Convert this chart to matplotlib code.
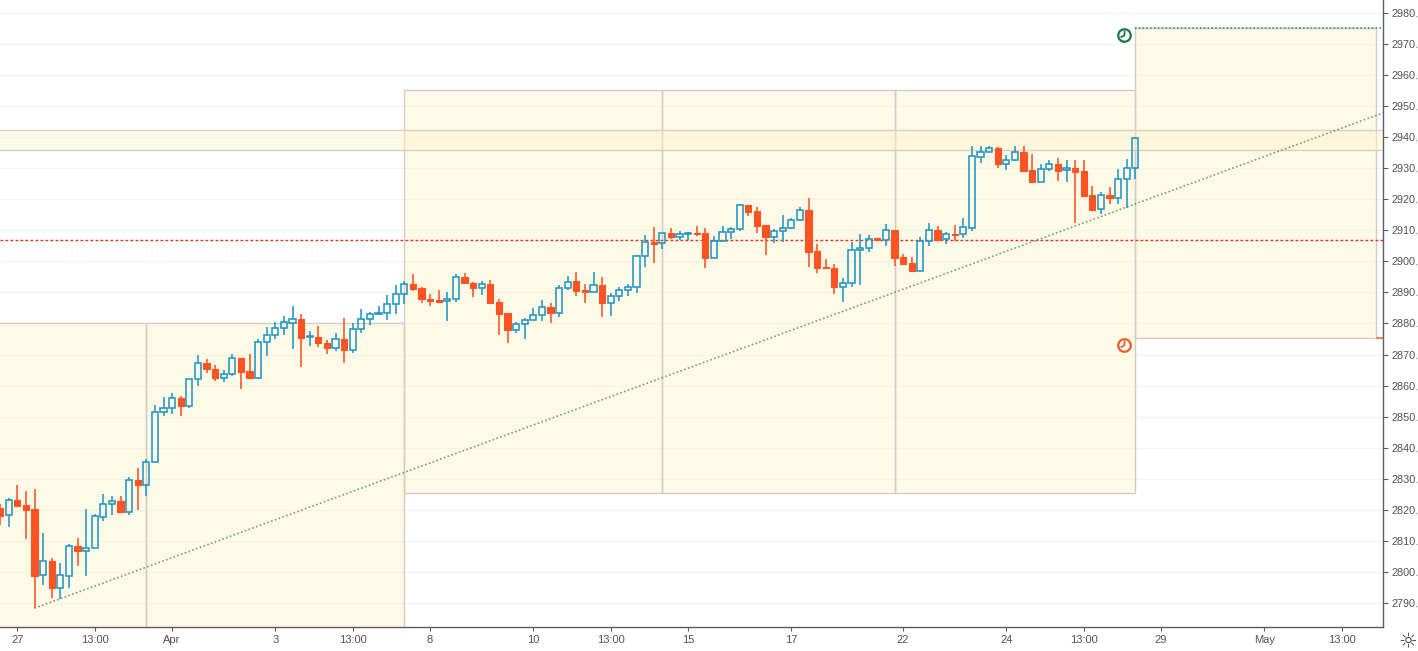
import matplotlib
matplotlib.use('Agg')
import matplotlib.pyplot as plt
from matplotlib.patches import Rectangle
from matplotlib.collections import LineCollection
from matplotlib.path import Path

# ---------------- data ----------------
first_bar = -2
opens = [2820.5, 2818.2, 2823.2, 2821.5, 2820.3, 2798.9, 2803.5, 2794.9, 2798.8, 2808.3,
         2806.8, 2807.8, 2817.8, 2821.8, 2822.7, 2819.4, 2829.5, 2828.1, 2835.5, 2851.4,
         2852.7, 2855.9, 2853.5, 2862.0, 2867.2, 2865.5, 2862.6, 2863.6, 2868.8, 2864.6,
         2862.5, 2873.9, 2876.2, 2878.4, 2880.3, 2881.6, 2875.6, 2875.5, 2873.6, 2872.2,
         2875.1, 2871.6, 2878.3, 2881.6, 2883.0, 2883.3, 2886.3, 2889.5, 2892.7, 2891.3,
         2887.8, 2887.6, 2887.3, 2887.8, 2894.9, 2892.9, 2891.5, 2892.7, 2886.8, 2883.3,
         2878.0, 2879.7, 2881.0, 2882.6, 2885.2, 2883.5, 2891.3, 2893.7, 2890.8, 2890.0,
         2892.4, 2886.7, 2888.7, 2890.7, 2891.7, 2901.6, 2906.2, 2905.9, 2909.0, 2907.7,
         2908.7, 2909.2, 2909.3, 2901.2, 2906.7, 2909.4, 2910.3, 2918.2, 2916.3, 2911.7,
         2907.8, 2909.7, 2910.7, 2913.3, 2916.6, 2903.4, 2898.3, 2898.0, 2891.7, 2892.9,
         2903.6, 2904.2, 2907.6, 2906.9, 2910.1, 2901.4, 2899.5, 2897.0, 2906.7, 2910.1,
         2907.1, 2908.9, 2908.7, 2910.9, 2933.7, 2935.1, 2936.4, 2931.5, 2932.6, 2935.1,
         2929.4, 2925.7, 2929.7, 2931.3, 2929.3, 2930.0, 2929.1, 2921.4, 2916.8, 2921.3,
         2920.3, 2926.5, 2930.0]
highs = [2822.0, 2823.8, 2828.0, 2826.1, 2826.6, 2812.6, 2804.4, 2802.8, 2808.9, 2810.8,
         2820.3, 2818.5, 2825.0, 2824.5, 2824.6, 2830.4, 2833.6, 2836.3, 2853.6, 2856.2,
         2857.5, 2856.7, 2862.0, 2869.8, 2868.5, 2866.5, 2864.9, 2870.2, 2868.8, 2870.2,
         2875.1, 2878.8, 2880.5, 2882.5, 2885.6, 2883.1, 2877.7, 2879.2, 2874.7, 2876.9,
         2881.7, 2880.3, 2884.6, 2883.8, 2885.6, 2889.2, 2892.4, 2893.8, 2895.9, 2891.9,
         2889.5, 2890.8, 2890.2, 2895.9, 2896.3, 2893.5, 2893.7, 2894.0, 2887.9, 2883.3,
         2880.6, 2881.7, 2884.9, 2887.6, 2886.5, 2892.4, 2895.3, 2896.7, 2892.6, 2896.7,
         2894.9, 2889.9, 2891.7, 2892.6, 2902.1, 2908.5, 2911.0, 2909.3, 2910.7, 2909.9,
         2909.4, 2911.4, 2910.7, 2908.2, 2911.5, 2911.0, 2918.5, 2918.2, 2917.6, 2911.7,
         2910.4, 2915.0, 2913.9, 2917.6, 2920.3, 2905.5, 2900.7, 2899.2, 2894.6, 2906.1,
         2908.8, 2908.4, 2907.6, 2912.1, 2910.1, 2902.5, 2901.3, 2908.0, 2912.3, 2911.3,
         2909.4, 2911.6, 2913.9, 2937.2, 2937.3, 2937.3, 2936.9, 2934.3, 2937.3, 2937.3,
         2934.5, 2931.3, 2932.7, 2933.2, 2932.7, 2932.7, 2932.7, 2924.3, 2922.2, 2923.9,
         2929.7, 2932.9, 2940.0]
lows = [2815.1, 2814.6, 2821.3, 2810.6, 2788.3, 2795.8, 2791.7, 2791.2, 2794.9, 2802.0,
        2798.8, 2807.8, 2816.5, 2818.3, 2819.4, 2818.2, 2819.8, 2824.6, 2835.5, 2850.3,
        2850.9, 2850.2, 2852.9, 2860.0, 2864.2, 2861.6, 2861.2, 2863.2, 2859.0, 2862.5,
        2862.2, 2869.6, 2875.1, 2876.3, 2871.9, 2865.9, 2872.9, 2872.5, 2870.3, 2871.3,
        2867.4, 2870.6, 2877.1, 2879.6, 2882.6, 2881.1, 2883.1, 2886.3, 2890.6, 2886.5,
        2885.7, 2887.0, 2880.9, 2887.0, 2892.9, 2888.6, 2889.2, 2886.7, 2876.3, 2873.8,
        2877.1, 2874.9, 2881.0, 2880.8, 2880.1, 2882.0, 2890.8, 2889.0, 2886.7, 2890.0,
        2882.2, 2882.4, 2887.4, 2888.9, 2889.7, 2898.3, 2899.4, 2904.1, 2907.3, 2906.9,
        2906.9, 2908.2, 2898.0, 2901.2, 2906.7, 2907.2, 2909.9, 2914.7, 2909.0, 2902.1,
        2906.0, 2906.4, 2910.4, 2913.0, 2898.3, 2896.2, 2897.7, 2889.5, 2887.0, 2891.9,
        2892.4, 2903.1, 2906.8, 2905.0, 2898.6, 2899.0, 2897.0, 2897.0, 2905.0, 2906.9,
        2905.7, 2906.7, 2907.4, 2909.9, 2931.6, 2935.1, 2930.2, 2929.4, 2932.3, 2928.9,
        2925.7, 2925.7, 2929.2, 2926.0, 2925.5, 2912.5, 2921.2, 2916.6, 2915.3, 2918.4,
        2918.4, 2917.3, 2926.5]
closes = [2818.1, 2823.1, 2821.3, 2820.0, 2798.8, 2803.5, 2794.9, 2798.9, 2808.2, 2806.8,
          2807.8, 2817.9, 2821.9, 2822.7, 2819.4, 2829.5, 2828.1, 2835.5, 2851.4, 2852.7,
          2855.9, 2853.5, 2862.0, 2867.2, 2865.5, 2862.6, 2863.6, 2868.8, 2864.5, 2862.5,
          2873.9, 2876.2, 2878.4, 2880.4, 2881.6, 2875.4, 2875.9, 2873.6, 2872.2, 2875.1,
          2871.6, 2878.3, 2881.6, 2883.1, 2883.4, 2886.3, 2889.5, 2892.7, 2891.2, 2887.8,
          2887.3, 2887.0, 2888.0, 2894.9, 2892.9, 2891.5, 2892.6, 2886.7, 2883.1, 2878.0,
          2879.7, 2881.0, 2882.6, 2885.2, 2883.5, 2891.3, 2893.5, 2890.6, 2890.0, 2892.4,
          2886.7, 2888.7, 2890.7, 2891.8, 2901.6, 2906.2, 2905.7, 2909.0, 2907.7, 2908.7,
          2909.2, 2908.9, 2901.2, 2906.7, 2909.4, 2910.3, 2918.2, 2915.9, 2911.5, 2907.8,
          2909.7, 2910.7, 2913.3, 2916.6, 2903.1, 2898.0, 2897.8, 2891.7, 2892.9, 2903.7,
          2904.2, 2907.3, 2906.8, 2910.0, 2901.2, 2899.3, 2897.0, 2906.7, 2910.0, 2906.9,
          2908.9, 2908.5, 2911.0, 2933.9, 2935.1, 2936.4, 2931.5, 2932.6, 2935.1, 2929.2,
          2925.7, 2929.7, 2931.3, 2929.2, 2930.0, 2928.9, 2921.2, 2916.6, 2921.3, 2920.3,
          2926.5, 2930.0, 2939.6]

tick_bars = [0, 9, 18, 30, 39, 48, 60, 69, 78, 90, 103, 115, 124, 133, 145, 154]
tick_labels = ['27', '13:00', 'Apr', '3', '13:00', '8', '10', '13:00', '15', '17',
               '22', '24', '13:00', '29', 'May', '13:00']
price_ticks = list(range(2790, 2990, 10))

zone_a_edges = [-6, 15, 45]
zone_a_top, zone_a_bottom = 2880.0, 2760.0
zone_b_edges = [45, 75, 102, 130]
zone_b_bottom, zone_b_top = 2825.5, 2955.25
zone_c_left, zone_c_right = 130, 158
zone_c_bottom, zone_c_top = 2875.25, 2975.25
band_bottom, band_top = 2936.0, 2942.25
red_level = 2906.85
trend_p1 = (2, 2788.3)
trend_p2 = (129, 2917.5)
clock_bar = 128.7
clock_top_price, clock_bottom_price = 2972.9, 2873.1

# ---------------- styling ----------------
UP = '#2196c4'
DOWN = '#fb5422'
ZONE_FILL = '#fff3cc'
ZONE_EDGE = '#d2cdc2'
TXT = '#4f5259'

W, H = 1418, 651
fig = plt.figure(figsize=(W / 100, H / 100), dpi=100)
fig.patch.set_facecolor('white')
ax = fig.add_axes([0, 24 / H, 1383 / W, 627 / H])
ax.set_facecolor('white')

xmin, xmax = -2.012, 158.8
ax.set_xlim(xmin, xmax)
ax.set_ylim(2782.25, 2984.19)

# grid
for p in price_ticks:
    ax.axhline(p, color='#f4f3ef', lw=0.8, zorder=0.5)

# zones
def zone(x0, x1, y0, y1, z=1):
    ax.add_patch(Rectangle((x0, y0), x1 - x0, y1 - y0, facecolor=ZONE_FILL,
                           alpha=0.45, edgecolor='none', zorder=z))
    ax.add_patch(Rectangle((x0, y0), x1 - x0, y1 - y0, facecolor='none',
                           edgecolor=ZONE_EDGE, lw=1.0, zorder=z + 0.1))

for a, b in zip(zone_a_edges[:-1], zone_a_edges[1:]):
    zone(a, b, zone_a_bottom, zone_a_top)
for a, b in zip(zone_b_edges[:-1], zone_b_edges[1:]):
    zone(a, b, zone_b_bottom, zone_b_top)
# zone C (top edge drawn dotted green)
ax.add_patch(Rectangle((zone_c_left, zone_c_bottom), zone_c_right - zone_c_left,
                       zone_c_top - zone_c_bottom, facecolor=ZONE_FILL, alpha=0.45,
                       edgecolor='none', zorder=1))
ax.plot([zone_c_left, zone_c_left, zone_c_right, zone_c_right, zone_c_left],
        [zone_c_top, zone_c_bottom, zone_c_bottom, zone_c_top, zone_c_top],
        color=ZONE_EDGE, lw=1.0, zorder=1.1)
ax.plot([zone_c_left, xmax], [zone_c_top, zone_c_top], color='#1e8a50',
        lw=1.1, ls=(0, (1, 1.5)), zorder=1.2)
ax.plot([zone_c_right + 0.1, xmax], [zone_c_bottom, zone_c_bottom], color=DOWN,
        lw=1.1, zorder=1.2)

# band
ax.add_patch(Rectangle((xmin - 1, band_bottom), xmax - xmin + 2, band_top - band_bottom,
                       facecolor=ZONE_FILL, alpha=0.45, edgecolor='none', zorder=1.3))
ax.axhline(band_top, color='#d6d2c6', lw=1.0, zorder=1.4)
ax.axhline(band_bottom, color='#d6d2c6', lw=1.0, zorder=1.4)

# red dashed level
ax.axhline(red_level, color='#d9381e', lw=1.0, ls=(0, (2, 1.6)), zorder=2)

# trend line (extended right)
slope = (trend_p2[1] - trend_p1[1]) / (trend_p2[0] - trend_p1[0])
ax.plot([trend_p1[0], xmax], [trend_p1[1], trend_p1[1] + slope * (xmax - trend_p1[0])],
        color='#4a9e5c', lw=1.2, ls=(0, (1, 1.4)), alpha=0.85, zorder=2)

# candles
bw = 0.74
wick_up, wick_dn = [], []
for k, (o, h, l, c) in enumerate(zip(opens, highs, lows, closes)):
    x = first_bar + k
    if c >= o:
        top, bot = c, o
        ax.add_patch(Rectangle((x - bw / 2, bot), bw, max(top - bot, 0.15),
                               facecolor='none', edgecolor=UP, lw=1.15, zorder=4))
        if h > top:
            wick_up.append([(x, top), (x, h)])
        if l < bot:
            wick_up.append([(x, l), (x, bot)])
    else:
        ax.add_patch(Rectangle((x - bw / 2, c), bw, o - c, facecolor=DOWN,
                               edgecolor=DOWN, lw=0.8, zorder=4))
        wick_dn.append([(x, l), (x, h)])
ax.add_collection(LineCollection(wick_up, colors=UP, linewidths=1.15, zorder=3.9))
ax.add_collection(LineCollection(wick_dn, colors=DOWN, linewidths=1.15, zorder=3.9))

# clock icons
hands = Path([(0, 0), (0, 0.55), (0, 0), (-0.45, -0.2)],
             [Path.MOVETO, Path.LINETO, Path.MOVETO, Path.LINETO])
for price, col in [(clock_top_price, '#17784a'), (clock_bottom_price, '#ee5a24')]:
    ax.plot([clock_bar], [price], marker='o', ms=9, mfc='white', mec=col, mew=1.6,
            zorder=6)
    ax.plot([clock_bar], [price], marker=hands, ms=7, mec=col, mew=1.3, zorder=7)

# axes styling
for s in ['top', 'left']:
    ax.spines[s].set_visible(False)
for s in ['right', 'bottom']:
    ax.spines[s].set_color('#5a5d63')
    ax.spines[s].set_linewidth(1.0)
    ax.spines[s].set_zorder(10)

ax.yaxis.tick_right()
ax.set_yticks(price_ticks)
ax.set_yticklabels([f'{p:.2f}' for p in price_ticks])
ax.tick_params(axis='y', direction='out', length=3.5, width=0.8, color='#5a5d63',
               pad=2.8, labelsize=7.8, labelcolor=TXT)
ax.set_xticks(tick_bars)
ax.set_xticklabels(tick_labels)
ax.tick_params(axis='x', direction='out', length=3, width=0.8, color='#5a5d63',
               pad=3, labelsize=8, labelcolor=TXT)
for lab in ax.get_xticklabels() + ax.get_yticklabels():
    lab.set_fontfamily('Liberation Sans')

# settings icon
fig.text(1408 / W, 1 - 641 / H, '\u263c', ha='center', va='center', fontsize=15,
         color='#3c3f45', family='DejaVu Sans')

fig.savefig('out.png', dpi=100, facecolor='white')
